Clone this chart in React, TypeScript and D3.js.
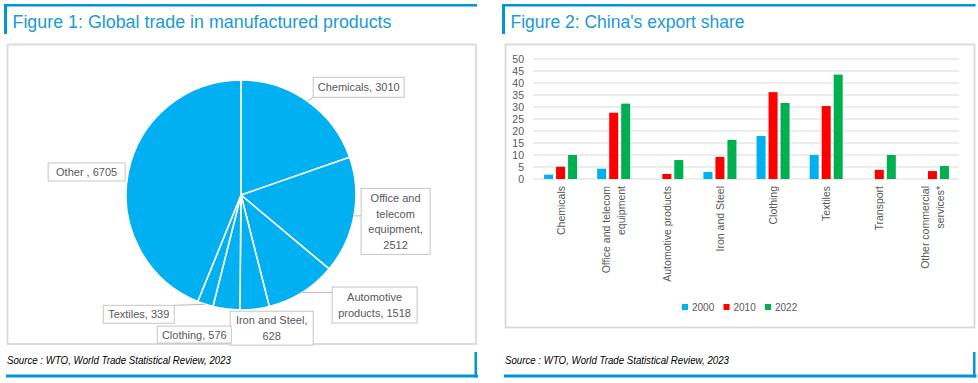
import React from "react";
import * as d3 from "d3";

// ---- Data ----
const pieCategories = ["Chemicals", "Office and telecom equipment", "Automotive products", "Iron and Steel", "Clothing", "Textiles", "Other"];
const pieValues = [3010, 2512, 1518, 628, 576, 339, 6705];
const pieLabelLines = [
  ["Chemicals, 3010"],
  ["Office and", "telecom", "equipment,", "2512"],
  ["Automotive", "products, 1518"],
  ["Iron and Steel,", "628"],
  ["Clothing, 576"],
  ["Textiles, 339"],
  ["Other , 6705"],
];

const barCategories = ["Chemicals", "Office and telecom equipment", "Automotive products", "Iron and Steel", "Clothing", "Textiles", "Transport", "Other commercial services*"];
const barCategoryLines = [
  ["Chemicals"],
  ["Office and telecom", "equipment"],
  ["Automotive products"],
  ["Iron and Steel"],
  ["Clothing"],
  ["Textiles"],
  ["Transport"],
  ["Other commercial", "services*"],
];
const years = ["2000", "2010", "2022"];
const values2000 = [1.8, 4.3, 0, 2.9, 17.9, 10.0, 0, 0];
const values2010 = [5.1, 27.6, 2.1, 9.2, 36.2, 30.4, 3.8, 3.3];
const values2022 = [10.0, 31.4, 7.9, 16.3, 31.7, 43.5, 10.0, 5.4];
const yTicks = [0, 5, 10, 15, 20, 25, 30, 35, 40, 45, 50];

// ---- Layout / style ----
const BLUE_RULE = "#0096d6";
const TITLE_COLOR = "#1a9ad6";
const FRAME = "#d9d9d9";
const TEXT = "#595959";
const seriesColors = ["#00b0f0", "#ff0000", "#00b050"];
const FONT = "'Liberation Sans', Arial, sans-serif";

// label boxes: offset of box center from slice outer mid point, box size, leader target
const pieLabelLayout = [
  { dx: 51, dy: -14, w: 91, h: 20, leader: true },
  { dx: 41.5, dy: 5.5, w: 69, h: 66, leader: true },
  { dx: 72.5, dy: 12.6, w: 85, h: 36, leader: true },
  { dx: 17, dy: 19, w: 83, h: 34, leader: false },
  { dx: -32, dy: 25.5, w: 74, h: 17, leader: false },
  { dx: -66.5, dy: 10, w: 71, h: 18, leader: true },
  { dx: -41.5, dy: -1, w: 77, h: 18, leader: true },
];

function Panel({ x0, x1, frameBottom, title, titleLen }: any) {
  return (
    <g>
      <rect x={x0} y={4} width={x1 - x0} height={2.5} fill={BLUE_RULE} />
      <rect x={x0} y={4} width={3} height={30} fill={BLUE_RULE} />
      <text x={x0 + 8.5} y={28} fontSize={17.5} fill={TITLE_COLOR} fontFamily={FONT} textLength={titleLen} lengthAdjust="spacingAndGlyphs">
        {title}
      </text>
      <rect x={x0 + 3.5} y={44.5} width={x1 - x0 - 4.5} height={frameBottom - 44.5} fill="#fff" stroke={FRAME} strokeWidth={1.8} />
      <text x={x0 + 3} y={364} fontSize={10} fontStyle="italic" fill="#000" fontFamily={FONT} textLength={224} lengthAdjust="spacingAndGlyphs">
        Source : WTO, World Trade Statistical Review, 2023
      </text>
      <rect x={x0 + 2} y={374.5} width={x1 - x0 - 1} height={3} fill={BLUE_RULE} />
      <rect x={x1 - 2.5} y={352} width={2.5} height={25.5} fill={BLUE_RULE} />
    </g>
  );
}

function PieChart() {
  const cx = 241, cy = 195, r = 115;
  const arcs = d3.pie<number>().sort(null).value((d) => d)(pieValues);
  const arcGen = d3.arc<any>().innerRadius(0).outerRadius(r);
  return (
    <g>
      <g transform={`translate(${cx},${cy})`}>
        {arcs.map((a, i) => (
          <path key={i} d={arcGen(a) as string} fill="#00b0f0" stroke="#fff" strokeWidth={1.6} strokeLinejoin="round" />
        ))}
      </g>
      {arcs.map((a, i) => {
        const mid = (a.startAngle + a.endAngle) / 2;
        const ox = cx + r * Math.sin(mid);
        const oy = cy - r * Math.cos(mid);
        const L = pieLabelLayout[i];
        const bx = ox + L.dx, by = oy + L.dy;
        const left = bx - L.w / 2, top = by - L.h / 2;
        const nx = Math.max(left, Math.min(left + L.w, ox));
        const ny = Math.max(top, Math.min(top + L.h, oy));
        const dist = Math.hypot(nx - ox, ny - oy);
        const lines = pieLabelLines[i];
        const lh = 15.5;
        return (
          <g key={i}>
            {L.leader && dist > 3.5 && <line x1={ox} y1={oy} x2={nx} y2={ny} stroke="#a6a6a6" strokeWidth={0.8} />}
            <rect x={left} y={top} width={L.w} height={L.h} fill="#fff" stroke="#bfbfbf" strokeWidth={0.9} />
            {lines.map((t, j) => (
              <text key={j} x={bx} y={by + (j - (lines.length - 1) / 2) * lh + 4} textAnchor="middle" fontSize={11} fill={TEXT} fontFamily={FONT}>
                {t}
              </text>
            ))}
          </g>
        );
      })}
    </g>
  );
}

function BarChart() {
  const x = d3.scaleBand().domain(barCategories).range([534, 959]);
  const inner = d3.scaleBand().domain(years).range([-18, 18]).paddingInner(0.25).paddingOuter(0.125);
  const y = d3.scaleLinear().domain([0, 50]).range([179, 59]);
  const series = [values2000, values2010, values2022];
  return (
    <g>
      {yTicks.map((t) => (
        <g key={t}>
          <line x1={533} x2={959} y1={y(t)} y2={y(t)} stroke={FRAME} strokeWidth={1} />
          <text x={524} y={y(t) + 4} textAnchor="end" fontSize={10.5} fill={TEXT} fontFamily={FONT}>
            {t}
          </text>
        </g>
      ))}
      {barCategories.map((c, i) => {
        const center = (x(c) as number) + x.bandwidth() / 2;
        return (
          <g key={c}>
            {series.map((s, k) =>
              s[i] > 0 ? (
                <rect key={k} x={center + (inner(years[k]) as number)} y={y(s[i])} width={inner.bandwidth()} height={y(0) - y(s[i])} fill={seriesColors[k]} />
              ) : null
            )}
            {barCategoryLines[i].map((t, j, arr) => (
              <text
                key={j}
                transform={`translate(${center + (j - (arr.length - 1) / 2) * 15 + 4},186) rotate(-90)`}
                textAnchor="end"
                fontSize={10.5}
                fill={TEXT}
                fontFamily={FONT}
              >
                {t}
              </text>
            ))}
          </g>
        );
      })}
      {years.map((yr, k) => {
        const lx = 682 + k * 41.5;
        return (
          <g key={yr}>
            <rect x={lx} y={304} width={6} height={6} fill={seriesColors[k]} />
            <text x={lx + 10} y={311} fontSize={10} fill={TEXT} fontFamily={FONT}>
              {yr}
            </text>
          </g>
        );
      })}
    </g>
  );
}

export default function App() {
  return (
    <svg width={978} height={383} style={{ position: "absolute", left: 0, top: 0, background: "#fff" }}>
      <rect width={978} height={383} fill="#fff" />
      <Panel x0={4} x1={477} frameBottom={344} title="Figure 1: Global trade in manufactured products" titleLen={379} />
      <Panel x0={502} x1={975.5} frameBottom={327.5} title="Figure 2: China's export share" titleLen={234} />
      <PieChart />
      <BarChart />
    </svg>
  );
}
